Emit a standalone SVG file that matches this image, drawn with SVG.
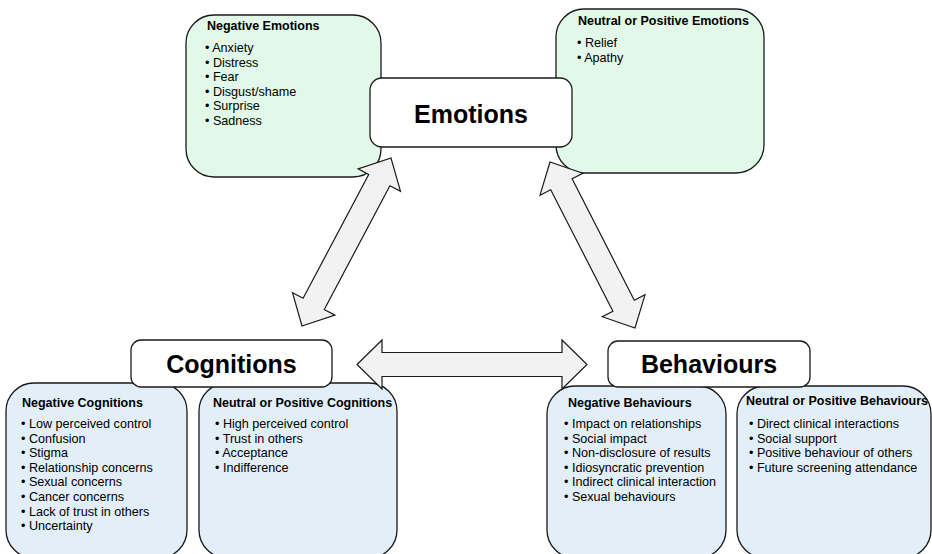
<svg xmlns="http://www.w3.org/2000/svg" width="932" height="554" viewBox="0 0 932 554">
  <style>
    .green { fill: #e2f8e8; stroke: #1a1a1a; stroke-width: 1.3; }
    .blue { fill: #e2eff9; stroke: #1a1a1a; stroke-width: 1.3; }
    .title { fill: #ffffff; stroke: #1a1a1a; stroke-width: 1.3; }
    .arrow { fill: #f2f2f2; stroke: #1a1a1a; stroke-width: 1.2; stroke-linejoin: miter; }
    text { font-family: "Liberation Sans", Arial, Helvetica, sans-serif; fill: #000; }
    .big { font-size: 25px; font-weight: bold; text-anchor: middle; }
    .head { font-size: 12.5px; font-weight: bold; }
    .item { font-size: 12.6px; }
  </style>
  <rect width="932" height="554" fill="#ffffff"/>

  <g id="negative-emotions">
    <rect class="green" x="186" y="15" width="195" height="162" rx="28" ry="28"/>
    <text class="head" x="207" y="30">Negative Emotions</text>
    <text class="item" x="205" y="52">• Anxiety</text>
    <text class="item" x="205" y="66.6">• Distress</text>
    <text class="item" x="205" y="81.2">• Fear</text>
    <text class="item" x="205" y="95.8">• Disgust/shame</text>
    <text class="item" x="205" y="110.4">• Surprise</text>
    <text class="item" x="205" y="125">• Sadness</text>
  </g>

  <g id="neutral-positive-emotions">
    <rect class="green" x="556" y="9" width="208" height="164" rx="28" ry="28"/>
    <text class="head" x="578" y="25">Neutral or Positive Emotions</text>
    <text class="item" x="577" y="47">• Relief</text>
    <text class="item" x="577" y="61.6">• Apathy</text>
  </g>

  <g id="negative-cognitions">
    <rect class="blue" x="6" y="383" width="181" height="175" rx="28" ry="28"/>
    <text class="head" x="22" y="407">Negative Cognitions</text>
    <text class="item" x="21" y="428">• Low perceived control</text>
    <text class="item" x="21" y="442.6">• Confusion</text>
    <text class="item" x="21" y="457.2">• Stigma</text>
    <text class="item" x="21" y="471.8">• Relationship concerns</text>
    <text class="item" x="21" y="486.4">• Sexual concerns</text>
    <text class="item" x="21" y="501">• Cancer concerns</text>
    <text class="item" x="21" y="515.6">• Lack of trust in others</text>
    <text class="item" x="21" y="530.2">• Uncertainty</text>
  </g>

  <g id="neutral-positive-cognitions">
    <rect class="blue" x="199" y="383" width="198" height="175" rx="28" ry="28"/>
    <text class="head" x="213" y="407">Neutral or Positive Cognitions</text>
    <text class="item" x="215" y="428">• High perceived control</text>
    <text class="item" x="215" y="442.6">• Trust in others</text>
    <text class="item" x="215" y="457.2">• Acceptance</text>
    <text class="item" x="215" y="471.8">• Indifference</text>
  </g>

  <g id="negative-behaviours">
    <rect class="blue" x="547" y="386" width="179" height="172" rx="28" ry="28"/>
    <text class="head" x="568" y="407">Negative Behaviours</text>
    <text class="item" x="564" y="428">• Impact on relationships</text>
    <text class="item" x="564" y="442.6">• Social impact</text>
    <text class="item" x="564" y="457.2">• Non-disclosure of results</text>
    <text class="item" x="564" y="471.8">• Idiosyncratic prevention</text>
    <text class="item" x="564" y="486.4">• Indirect clinical interaction</text>
    <text class="item" x="564" y="501">• Sexual behaviours</text>
  </g>

  <g id="neutral-positive-behaviours">
    <rect class="blue" x="737" y="386" width="194" height="172" rx="28" ry="28"/>
    <text class="head" x="746" y="405">Neutral or Positive Behaviours</text>
    <text class="item" x="749" y="428">• Direct clinical interactions</text>
    <text class="item" x="749" y="442.6">• Social support</text>
    <text class="item" x="749" y="457.2">• Positive behaviour of others</text>
    <text class="item" x="749" y="471.8">• Future screening attendance</text>
  </g>

  <g id="connectors">
    <polygon class="arrow" points="302,326 334.9,315.1 324.3,309.5 389.9,185.7 400.5,191.3 391,158 358.1,168.9 368.7,174.5 303.1,298.3 292.5,292.7"/>
    <polygon class="arrow" points="550,162 540,195.2 550.7,189.7 612.9,311.2 602.3,316.7 635,328 645,294.8 634.3,300.3 572.1,178.8 582.8,173.3"/>
    <polygon class="arrow" points="357,364.5 382,340 382,352.5 562,352.5 562,340 587,364.5 562,389 562,376.5 382,376.5 382,389"/>
  </g>

  <g id="emotions">
    <rect class="title" x="370" y="78" width="202" height="69" rx="12" ry="12"/>
    <text class="big" x="471" y="123">Emotions</text>
  </g>

  <g id="cognitions">
    <rect class="title" x="131" y="340" width="201" height="47" rx="10" ry="10"/>
    <text class="big" x="231.5" y="373">Cognitions</text>
  </g>

  <g id="behaviours">
    <rect class="title" x="608" y="341" width="202" height="46" rx="10" ry="10"/>
    <text class="big" x="709" y="373">Behaviours</text>
  </g>
</svg>
